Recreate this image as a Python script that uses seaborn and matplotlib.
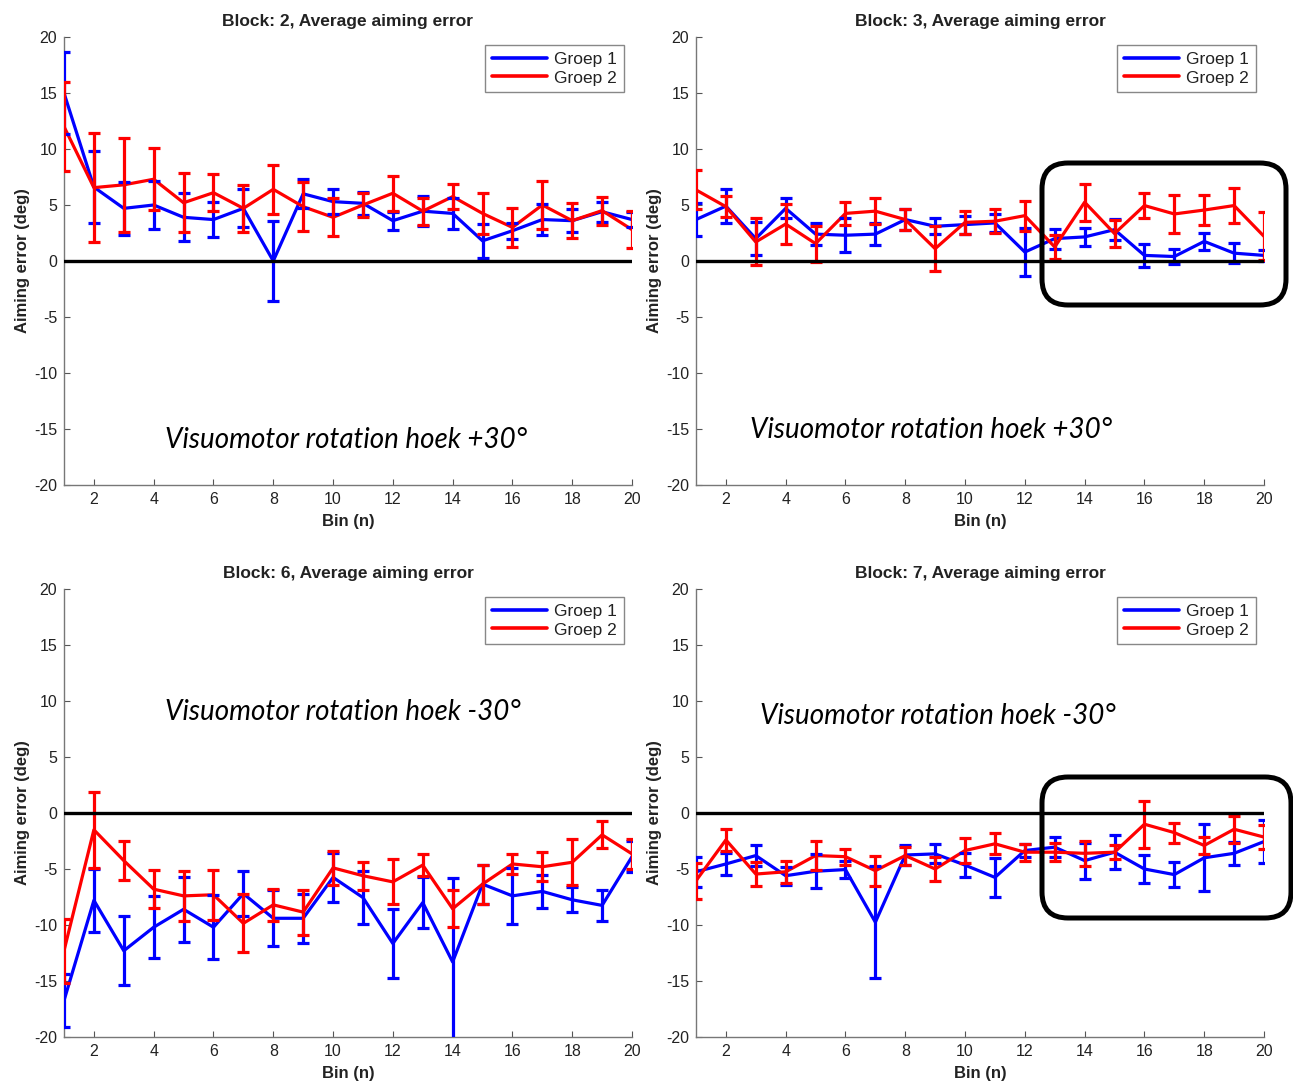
import pandas as pd
import seaborn as sns
import matplotlib.pyplot as plt
from matplotlib.patches import FancyBboxPatch

bins = list(range(1, 21))
blocks = [2, 3, 6, 7]
groups = ['Groep 1', 'Groep 2']

# block 2
b2_g1 = [15.0, 6.6, 4.7, 5.0, 3.9, 3.7, 4.7, 0.0, 6.0, 5.3, 5.15, 3.6, 4.45, 4.25, 1.8, 2.7, 3.7, 3.6, 4.4, 3.7]
b2_g1_err = [3.7, 3.2, 2.35, 2.1, 2.15, 1.6, 1.7, 3.6, 1.3, 1.1, 1.0, 0.8, 1.35, 1.4, 1.5, 0.7, 1.35, 1.0, 0.9, 0.7]
b2_g2 = [12.0, 6.55, 6.8, 7.3, 5.2, 6.1, 4.7, 6.4, 4.85, 3.9, 5.0, 6.05, 4.45, 5.75, 4.25, 3.0, 5.0, 3.6, 4.5, 2.8]
b2_g2_err = [4.0, 4.85, 4.2, 2.75, 2.65, 1.65, 2.1, 2.2, 2.2, 1.7, 1.1, 1.55, 1.2, 1.15, 1.85, 1.75, 2.15, 1.55, 1.25, 1.65]

# block 3
b3_g1 = [3.7, 4.9, 2.0, 4.7, 2.4, 2.3, 2.4, 3.7, 3.1, 3.25, 3.4, 0.8, 2.0, 2.15, 2.8, 0.5, 0.4, 1.75, 0.7, 0.5]
b3_g1_err = [1.45, 1.5, 1.5, 0.9, 0.95, 1.5, 1.0, 0.9, 0.7, 0.8, 0.8, 2.15, 0.9, 0.8, 0.95, 1.05, 0.7, 0.75, 0.9, 0.5]
b3_g2 = [6.35, 4.85, 1.7, 3.3, 1.55, 4.25, 4.45, 3.7, 1.1, 3.45, 3.55, 4.05, 1.25, 5.25, 2.45, 4.95, 4.2, 4.55, 4.95, 2.2]
b3_g2_err = [1.75, 0.95, 2.1, 1.75, 1.6, 1.0, 1.15, 0.9, 2.0, 1.05, 1.05, 1.35, 1.1, 1.65, 1.2, 1.1, 1.7, 1.3, 1.55, 2.15]

# block 6
b6_g1 = [-16.75, -7.8, -12.3, -10.2, -8.6, -10.2, -7.2, -9.4, -9.4, -5.75, -7.55, -11.65, -8.0, -13.3, -6.35, -7.4, -7.0, -7.75, -8.25, -3.9]
b6_g1_err = [2.35, 2.8, 3.1, 2.75, 2.9, 2.85, 2.0, 2.5, 2.2, 2.2, 2.4, 3.05, 2.25, 7.5, 1.75, 2.5, 1.45, 1.1, 1.35, 1.4]
b6_g2 = [-12.3, -1.5, -4.25, -6.8, -7.4, -7.3, -9.85, -8.2, -8.85, -4.9, -5.6, -6.15, -4.65, -8.55, -6.35, -4.55, -4.8, -4.4, -1.95, -3.65]
b6_g2_err = [2.85, 3.4, 1.75, 1.7, 2.2, 2.25, 2.6, 1.4, 2.0, 1.55, 1.25, 2.0, 0.95, 1.65, 1.75, 0.9, 1.3, 2.05, 1.2, 1.35]

# block 7
b7_g1 = [-5.25, -4.55, -3.8, -5.6, -5.2, -5.05, -9.75, -3.75, -3.65, -4.65, -5.75, -3.35, -3.05, -4.25, -3.5, -5.0, -5.5, -4.0, -3.6, -2.55]
b7_g1_err = [1.35, 0.95, 0.95, 0.8, 1.5, 0.75, 5.0, 0.85, 0.85, 1.1, 1.75, 0.6, 0.9, 1.6, 1.5, 1.25, 1.1, 3.0, 1.05, 1.9]
b7_g2 = [-6.05, -2.4, -5.45, -5.25, -3.8, -3.9, -5.15, -3.8, -5.0, -3.35, -2.75, -3.5, -3.5, -3.6, -3.5, -1.0, -1.75, -2.9, -1.45, -2.15]
b7_g2_err = [1.6, 1.0, 1.1, 1.0, 1.3, 0.7, 1.35, 0.8, 1.1, 1.1, 0.95, 0.75, 0.8, 1.1, 0.6, 2.1, 0.9, 0.75, 1.2, 1.1]

notes = ['Visuomotor rotation hoek +30°', 'Visuomotor rotation hoek +30°',
         'Visuomotor rotation hoek -30°', 'Visuomotor rotation hoek -30°']
note_pos = [(4.38, -16.0), (2.8, -15.1), (4.38, 9.0), (3.14, 8.66)]

series = {
    2: (b2_g1, b2_g1_err, b2_g2, b2_g2_err),
    3: (b3_g1, b3_g1_err, b3_g2, b3_g2_err),
    6: (b6_g1, b6_g1_err, b6_g2, b6_g2_err),
    7: (b7_g1, b7_g1_err, b7_g2, b7_g2_err),
}

sns.set_style('white')
plt.rcParams['font.family'] = ['Liberation Sans', 'DejaVu Sans']
plt.rcParams['axes.unicode_minus'] = False

palette = {'Groep 1': '#0000ff', 'Groep 2': '#ff0000'}
fig = plt.figure(figsize=(12.93, 10.84), dpi=100)

W, H = 1293, 1084
boxes = [(64, 37), (696, 37), (64, 589), (696, 589)]
aw, ah = 568, 448

for i, block in enumerate(blocks):
    left, top = boxes[i]
    ax = fig.add_axes([left / W, (H - top - ah) / H, aw / W, ah / H])
    g1, e1, g2, e2 = series[block]
    df = pd.DataFrame({
        'bin': bins * 2,
        'err': g1 + g2,
        'sd': e1 + e2,
        'groep': ['Groep 1'] * 20 + ['Groep 2'] * 20,
    })
    sns.lineplot(data=df, x='bin', y='err', hue='groep', palette=palette,
                 linewidth=2.3, ax=ax, errorbar=None, zorder=3)
    for name in groups:
        sub = df[df['groep'] == name]
        ax.errorbar(sub['bin'], sub['err'], yerr=sub['sd'], fmt='none',
                    ecolor=palette[name], elinewidth=2.3, capsize=4.5,
                    capthick=2.3, zorder=3)
    ax.axhline(0, color='black', linewidth=2.4, zorder=4)

    ax.set_xlim(1, 20)
    ax.set_ylim(-20, 20)
    ax.set_xticks(range(2, 21, 2))
    ax.set_yticks(range(-20, 21, 5))
    ax.tick_params(direction='in', length=4, width=0.8, colors='#555555',
                   labelcolor='#222222', labelsize=11.5, pad=5,
                   bottom=True, left=True)
    for s in ['top', 'right']:
        ax.spines[s].set_visible(False)
    for s in ['left', 'bottom']:
        ax.spines[s].set_color('#777777')
        ax.spines[s].set_linewidth(1.0)

    ax.set_title(f'Block: {block}, Average aiming error', fontsize=12.5,
                 fontweight='bold', color='#222222', pad=8)
    ax.set_xlabel('Bin (n)', fontsize=12, fontweight='bold', color='#222222', labelpad=5)
    ax.set_ylabel('Aiming error (deg)', fontsize=12, fontweight='bold', color='#222222', labelpad=3)

    leg = ax.legend(loc='upper right', fontsize=12.5, handlelength=3.2,
                    frameon=True, fancybox=False, framealpha=1,
                    borderaxespad=0.45, labelspacing=0.2, borderpad=0.4,
                    handletextpad=0.4)
    leg.get_frame().set_edgecolor('#888888')
    leg.get_frame().set_linewidth(1.0)
    for t in leg.get_texts():
        t.set_color('#222222')
    for line in leg.get_lines():
        line.set_linewidth(2.6)

    nx, ny = note_pos[i]
    ax.text(nx, ny, notes[i], fontsize=20, style='italic', family='Lato',
            ha='left', va='center', color='black')

# rounded boxes around the late bins
for (x0, y0, x1, y1) in [(1042, 163, 1286, 305), (1042, 777, 1291, 918)]:
    patch = FancyBboxPatch((x0 / 100, (H - y1) / 100), (x1 - x0) / 100, (y1 - y0) / 100,
                           boxstyle='round,pad=0,rounding_size=0.26',
                           transform=fig.dpi_scale_trans, fill=False,
                           edgecolor='black', linewidth=3.6, zorder=10)
    fig.add_artist(patch)

plt.savefig('out.png', dpi=100)
